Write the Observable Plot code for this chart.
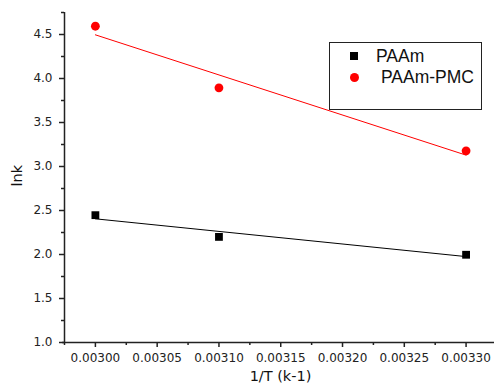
<!DOCTYPE html>
<html>
<head>
<meta charset="utf-8">
<script src="https://cdn.jsdelivr.net/npm/d3@7"></script>
<script src="https://cdn.jsdelivr.net/npm/@observablehq/plot@0.6"></script>
<style>
  html, body { margin: 0; padding: 0; background: #fff; }
  #wrap { position: relative; width: 494px; height: 389px; font-family: "DejaVu Sans", sans-serif; }
  #legend { position: absolute; left: 329px; top: 42px; width: 151px; height: 66px; border: 1px solid #222; background: #fff; box-sizing: content-box; }
  .item { position: absolute; font-family: "Liberation Sans", Arial, sans-serif; font-size: 17.5px; color: #111; line-height: 20px; white-space: nowrap; }
  .sq { position: absolute; width: 8px; height: 8px; background: #000; }
  .ci { position: absolute; width: 9px; height: 9px; border-radius: 50%; background: #f00; }
</style>
</head>
<body>
<div id="wrap"></div>
<script>
const invT = [0.00300, 0.00310, 0.00330];
const paam = [2.447, 2.200, 1.997];
const paamPmc = [4.594, 3.894, 3.178];
const seriesNames = ["PAAm", "PAAm-PMC"];
const xMajor = [0.00300, 0.00305, 0.00310, 0.00315, 0.00320, 0.00325, 0.00330];
const xMinor = [0.002975, 0.003025, 0.003075, 0.003125, 0.003175, 0.003225, 0.003275, 0.003325];
const yMajor = [1.0, 1.5, 2.0, 2.5, 3.0, 3.5, 4.0, 4.5];
const yMinor = [1.25, 1.75, 2.25, 2.75, 3.25, 3.75, 4.25, 4.75];

const dataA = invT.map((x, i) => ({x, y: paam[i], s: seriesNames[0]}));
const dataB = invT.map((x, i) => ({x, y: paamPmc[i], s: seriesNames[1]}));

const xDomain = [0.002975, 0.003323];
const yDomain = [1, 4.75];
const axisColor = "#222";

const chart = Plot.plot({
  width: 494,
  height: 389,
  marginLeft: 64,
  marginRight: 0,
  marginTop: 12,
  marginBottom: 47,
  style: {fontFamily: "'DejaVu Sans', sans-serif", fontSize: "12px", color: "#222", background: "#fff"},
  x: {domain: xDomain},
  y: {domain: yDomain},
  marks: [
    Plot.axisX({ticks: xMajor, tickSize: 5, tickPadding: 6, tickFormat: d => d.toFixed(5), stroke: axisColor, strokeWidth: 1.5, label: null}),
    Plot.axisX({ticks: xMinor, tickSize: 3, tickFormat: () => "", stroke: axisColor, strokeWidth: 1.5, label: null}),
    Plot.axisY({ticks: yMajor, tickSize: 5, tickPadding: 7, tickFormat: d => d.toFixed(1), stroke: axisColor, strokeWidth: 1.5, label: null}),
    Plot.axisY({ticks: yMinor, tickSize: 3, tickFormat: () => "", stroke: axisColor, strokeWidth: 1.5, label: null}),
    Plot.ruleY([yDomain[0]], {x1: xDomain[0], x2: xDomain[1], stroke: axisColor, strokeWidth: 1.5, insetLeft: -2}),
    Plot.ruleX([xDomain[0]], {y1: yDomain[0], y2: yDomain[1], stroke: axisColor, strokeWidth: 1.5}),
    Plot.linearRegressionY(dataA, {x: "x", y: "y", stroke: "#000", strokeWidth: 1, ci: 0}),
    Plot.linearRegressionY(dataB, {x: "x", y: "y", stroke: "#f00", strokeWidth: 1, ci: 0}),
    Plot.dot(dataA, {x: "x", y: "y", symbol: "square", r: 4.4, fill: "#000", stroke: "none"}),
    Plot.dot(dataB, {x: "x", y: "y", symbol: "circle", r: 4.4, fill: "#f00", stroke: "none"}),
    Plot.text(["1/T (k-1)"], {frameAnchor: "bottom", dy: 38, dx: 1, fontSize: 14.5, fill: "#111"}),
    Plot.text(["lnk"], {frameAnchor: "left", dx: -47, dy: 9, rotate: -90, fontSize: 14.5, fill: "#111"})
  ]
});

const wrap = document.getElementById("wrap");
wrap.appendChild(chart);

const legend = document.createElement("div");
legend.id = "legend";
legend.innerHTML =
  `<div class="sq" style="left:20px;top:9px"></div>` +
  `<div class="item" style="left:46px;top:3px">${seriesNames[0]}</div>` +
  `<div class="ci" style="left:20px;top:30px"></div>` +
  `<div class="item" style="left:51px;top:24px">${seriesNames[1]}</div>`;
wrap.appendChild(legend);
</script>
</body>
</html>
